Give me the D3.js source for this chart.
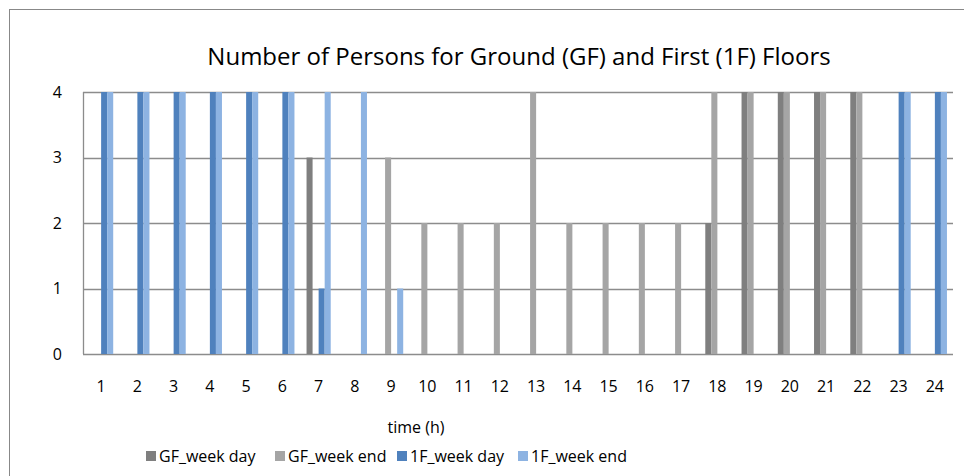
<!DOCTYPE html>
<html>
<head>
<meta charset="utf-8">
<script src="https://cdn.jsdelivr.net/npm/d3@7"></script>
<style>
  body { margin: 0; background: #fff; }
  svg { font-family: "Open Sans", "Liberation Sans", sans-serif; }
</style>
</head>
<body>
<div id="chart"></div>
<script>
// hours on the x axis
const hours = ["1","2","3","4","5","6","7","8","9","10","11","12","13","14","15","16","17","18","19","20","21","22","23","24"];
const seriesNames = ["GF_week day", "GF_week end", "1F_week day", "1F_week end"];
const seriesColors = ["#7f7f7f", "#a5a5a5", "#4f81bd", "#8db3e2"];

const gfWeekDay  = [0,0,0,0,0,0,3,0,0,0,0,0,0,0,0,0,0,2,4,4,4,4,0,0];
const gfWeekEnd  = [0,0,0,0,0,0,0,0,3,2,2,2,4,2,2,2,2,4,4,4,4,4,0,0];
const f1WeekDay  = [4,4,4,4,4,4,1,0,0,0,0,0,0,0,0,0,0,0,0,0,0,0,4,4];
const f1WeekEnd  = [4,4,4,4,4,4,4,4,1,0,0,0,0,0,0,0,0,0,0,0,0,0,4,4];
const yTicks = [0, 1, 2, 3, 4];

const allSeries = [gfWeekDay, gfWeekEnd, f1WeekDay, f1WeekEnd];

const width = 964, height = 476;
const margin = {left: 83, right: 11, top: 92, bottom: 122};

const svg = d3.select("#chart").append("svg")
    .attr("width", width)
    .attr("height", height);

// chart border (runs off right/bottom like the original)
svg.append("rect")
    .attr("x", 9.5).attr("y", 9.5)
    .attr("width", 980).attr("height", 500)
    .attr("fill", "none")
    .attr("stroke", "#888")
    .attr("stroke-width", 1);

const x = d3.scaleBand()
    .domain(hours)
    .range([margin.left, width - margin.right])
    .paddingInner(0.3333)
    .paddingOuter(0.1667);

const xSub = d3.scaleBand()
    .domain(d3.range(4))
    .range([0, x.bandwidth()]);

const y = d3.scaleLinear()
    .domain([0, 4])
    .range([height - margin.bottom, margin.top]);

// gridlines
svg.append("g")
    .selectAll("line")
    .data(yTicks)
    .enter()
    .append("line")
    .attr("x1", margin.left)
    .attr("x2", width - margin.right)
    .attr("y1", d => Math.round(y(d)) + 0.5)
    .attr("y2", d => Math.round(y(d)) + 0.5)
    .attr("stroke", "#8c8c8c")
    .attr("stroke-width", 1.3);

// left axis line
svg.append("line")
    .attr("x1", margin.left + 0.5).attr("x2", margin.left + 0.5)
    .attr("y1", y(4)).attr("y2", y(0))
    .attr("stroke", "#8c8c8c")
    .attr("stroke-width", 1.3);

// bars
const groups = svg.append("g")
    .selectAll("g")
    .data(hours)
    .enter()
    .append("g")
    .attr("transform", d => "translate(" + x(d) + ",0)");

groups.selectAll("rect")
    .data((d, i) => allSeries.map((s, k) => ({k: k, v: s[i]})))
    .enter()
    .append("rect")
    .attr("x", d => xSub(d.k))
    .attr("width", xSub.bandwidth())
    .attr("y", d => y(d.v))
    .attr("height", d => y(0) - y(d.v))
    .attr("fill", d => seriesColors[d.k]);

// y labels
svg.append("g")
    .selectAll("text")
    .data(yTicks)
    .enter()
    .append("text")
    .attr("x", 62)
    .attr("y", d => y(d))
    .attr("dy", "0.35em")
    .attr("text-anchor", "end")
    .attr("font-size", 16)
    .attr("fill", "#000")
    .text(d => d);

// x labels
svg.append("g")
    .selectAll("text")
    .data(hours)
    .enter()
    .append("text")
    .attr("x", d => x(d) + x.bandwidth() / 2)
    .attr("y", 386)
    .attr("dy", "0.35em")
    .attr("text-anchor", "middle")
    .attr("font-size", 16)
    .attr("fill", "#000")
    .text(d => d);

// title
svg.append("text")
    .attr("x", 519)
    .attr("y", 65)
    .attr("text-anchor", "middle")
    .attr("font-size", 24)
    .attr("fill", "#000")
    .text("Number of Persons for Ground (GF) and First (1F) Floors");

// x axis title
svg.append("text")
    .attr("x", 416)
    .attr("y", 427)
    .attr("dy", "0.35em")
    .attr("text-anchor", "middle")
    .attr("font-size", 16)
    .attr("fill", "#000")
    .text("time (h)");

// legend
const legendX = [146, 275, 397, 518];
const legend = svg.append("g")
    .selectAll("g")
    .data(seriesNames)
    .enter()
    .append("g")
    .attr("transform", (d, i) => "translate(" + legendX[i] + ",456)");

legend.append("rect")
    .attr("x", 0).attr("y", -5)
    .attr("width", 10).attr("height", 10)
    .attr("fill", (d, i) => seriesColors[i]);

legend.append("text")
    .attr("x", 13)
    .attr("y", 0)
    .attr("dy", "0.35em")
    .attr("font-size", 16)
    .attr("fill", "#000")
    .text(d => d);
</script>
</body>
</html>
